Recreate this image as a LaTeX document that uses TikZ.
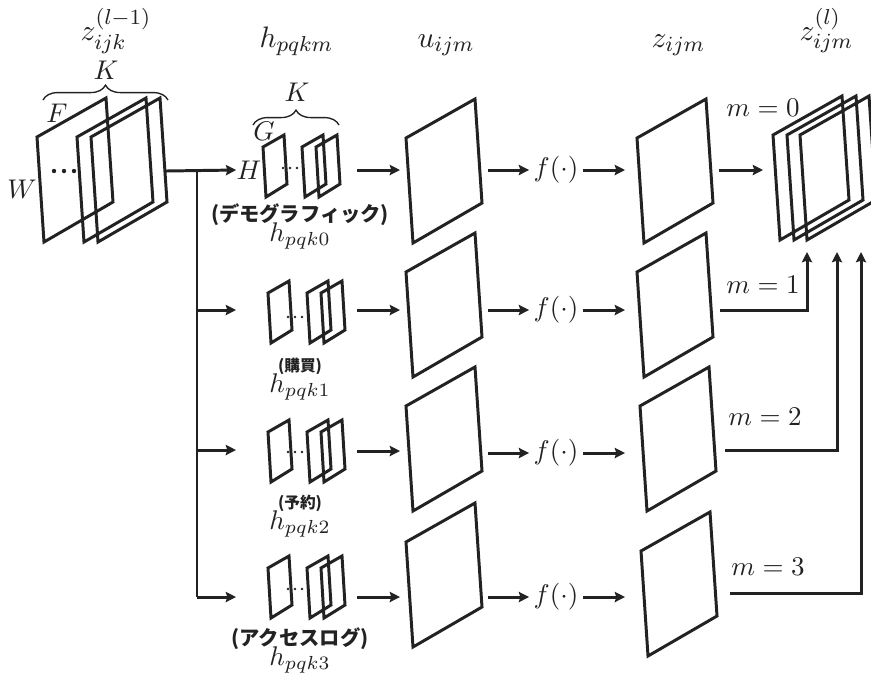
\documentclass[tikz,border=0pt]{standalone}
\usepackage{fontspec}
\newfontfamily\jpfont{Noto Sans CJK JP}
\usetikzlibrary{arrows.meta,decorations.pathreplacing}
\definecolor{ink}{HTML}{222222}
\tikzset{
  plane/.style={draw=ink, line width=1.1pt, line join=miter},
  wire/.style={draw=ink, line width=1.1pt},
  arr/.style={draw=ink, line width=1.1pt, -{Stealth[length=3.8pt,width=3.8pt,inset=0.6pt]}},
  bigplane/.pic={\path[plane] (0,0) -- (69,-39) -- (76,65) -- (7,105) -- cycle;},
  smallplane/.pic={\path[plane] (0,0) -- (21,-12) -- (24,37) -- (3,50) -- cycle;},
  lab/.style={inner sep=0pt, text=ink},
  head/.style={inner sep=0pt, text=ink, anchor=base west, font=\fontsize{11.3}{13}\selectfont},
  jpkana/.style={inner sep=0pt, text=ink, text height=0.8em, text depth=0.05em,
    font=\jpfont\bfseries\fontsize{7.5}{8.5}\selectfont},
  jpkanji/.style={inner sep=0pt, text=ink, text height=0.8em, text depth=0.05em,
    font=\jpfont\bfseries\fontsize{5.8}{7}\selectfont},
  fnode/.style={inner xsep=1.5pt, inner ysep=0pt, text=ink},
  brace/.style={draw=ink, line width=0.5pt, decorate, decoration={brace, amplitude=5.5pt}}
}
\begin{document}
\begin{tikzpicture}[x=0.37pt,y=-0.37pt]
\useasboundingbox (0,0) rectangle (871,673);

% column headings
\node[head] (hin)  at (80,40)  {$z_{ijk}^{(l-1)}$};
\node[head] (hh)   at (259,47) {$h_{pqkm}$};
\node[head] (hu)   at (417,47) {$u_{ijm}$};
\node[head] (hz)   at (651,47) {$z_{ijm}$};
\node[head] (hout) at (799,40) {$z_{ijm}^{(l)}$};

% input maps
\pic at (37,137) {bigplane};
\pic at (77,137) {bigplane};
\pic at (91,137) {bigplane};
\foreach \x in {54,64,74} \fill[ink] (\x,171) circle (2.2);
\draw[brace] (43,100) -- (168,100);
\node[lab] (kin) at (106,70) {$K$};
\node[lab] (F) at (57,113) {$F$};
\node[lab] (W) at (22,189) {$W$};

% distribution to the four filter groups
\coordinate (in-e) at (166,171);
\coordinate (split) at (197,171);
\node[lab] (H) at (249,170) {$H$};
\draw[arr] (in-e) -- (H.west);
\coordinate (b4) at (197,597);
\draw[wire] (split) -- (b4);

% filter group of the first row
\node[lab] (G) at (264,131) {$G$};
\draw[brace] (253,125) -- (339,125);
\node[lab] (kf) at (297,92) {$K$};

% rows: filters, convolution maps, activation, output maps
\foreach \r/\sx/\sy/\dy/\ay/\uy/\zx/\zy/\fy in {
  1/263/147/168/170/138/637/138/170,
  2/268/293/317/310/272/637/272/310,
  3/268/432/452/451/406/640/406/453,
  4/268/568/589/597/542/641/551/597}{
  \pic at (\sx,\sy) {smallplane};
  \pic at (\sx+39,\sy) {smallplane};
  \pic at (\sx+53,\sy) {smallplane};
  \foreach \d in {0,7,14} \fill[ink] (\sx+20+\d,\dy) circle (1.3);
  \pic at (406,\uy) {bigplane};
  \pic at (\zx,\zy) {bigplane};
  \coordinate (s\r-e) at (357,\ay);
  \coordinate (u\r-w) at (400,\ay);
  \draw[arr] (s\r-e) -- (u\r-w);
  \node[fnode] (f\r) at (556,\fy) {$f(\cdot)$};
  \coordinate (u\r-e) at (488,\fy);
  \coordinate (z\r-w) at (625,\fy);
  \draw[arr] (u\r-e) -- (f\r.west);
  \draw[arr] (f\r.east) -- (z\r-w);
}
\foreach \r/\ay in {2/310,3/450,4/597}{
  \coordinate (b\r) at (197,\ay);
  \coordinate (t\r) at (236,\ay);
  \draw[arr] (b\r) -- (t\r);
}

% filter group names
\node[jpkana]  (jp1) at (300,211) {(デモグラフィック)};
\node[lab]     (h1)  at (300,236) {$h_{pqk0}$};
\node[jpkanji] (jp2) at (300,361) {(購買)};
\node[lab]     (h2)  at (300,387) {$h_{pqk1}$};
\node[jpkanji] (jp3) at (300,498) {(予約)};
\node[lab]     (h3)  at (300,524) {$h_{pqk2}$};
\node[jpkana]  (jp4) at (300,635) {(アクセスログ)};
\node[lab]     (h4)  at (300,660) {$h_{pqk3}$};

% output maps
\pic at (773,135) {bigplane};
\pic at (787,135) {bigplane};
\pic at (800,135) {bigplane};
\node[lab] (m0) at (763,108) {$m=0$};
\node[lab] (m1) at (763,285) {$m=1$};
\node[lab] (m2) at (765,417) {$m=2$};
\node[lab] (m3) at (768,567) {$m=3$};
\coordinate (z1-e) at (719,170);
\coordinate (o1) at (763,170);
\draw[arr] (z1-e) -- (o1);
\coordinate (z2-e) at (720,310);
\coordinate (o2) at (807,252);
\draw[arr] (z2-e) -| (o2);
\coordinate (z3-e) at (725,450);
\coordinate (o3) at (837,252);
\draw[arr] (z3-e) -| (o3);
\coordinate (z4-e) at (730,593);
\coordinate (o4) at (861,252);
\draw[arr] (z4-e) -| (o4);
\end{tikzpicture}
\end{document}
